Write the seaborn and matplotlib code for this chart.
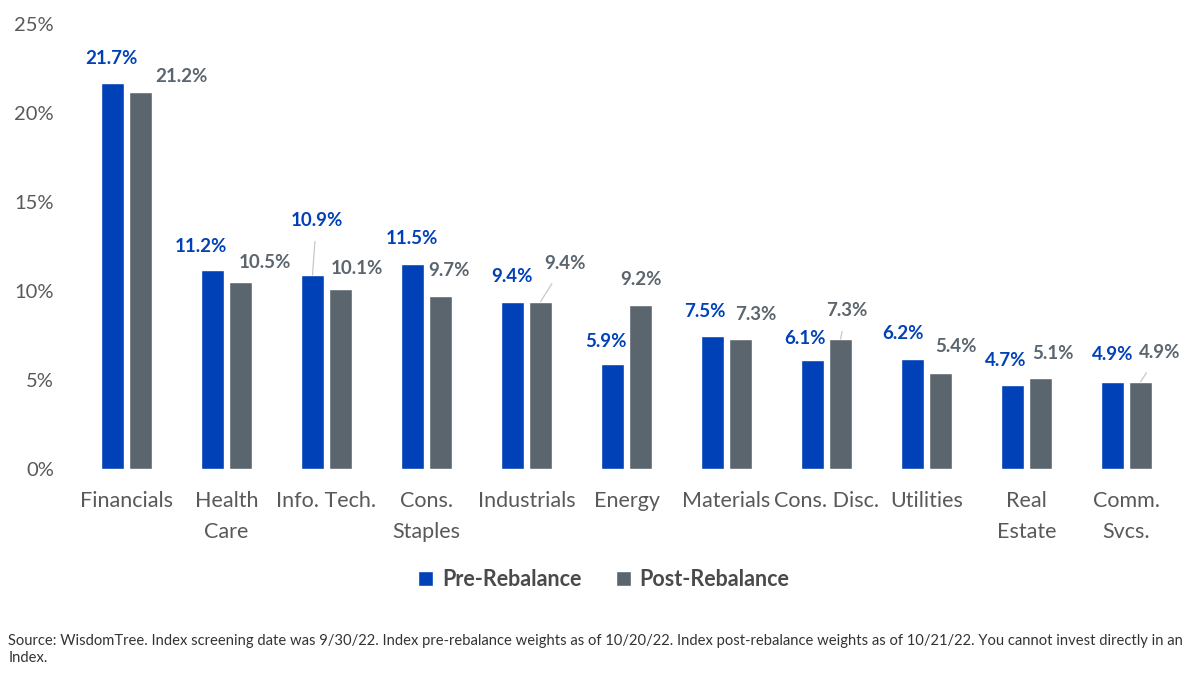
import pandas as pd
import seaborn as sns
import matplotlib.pyplot as plt
from matplotlib.patches import Patch

# data
sectors = ['Financials', 'Health\nCare', 'Info. Tech.', 'Cons.\nStaples', 'Industrials', 'Energy',
           'Materials', 'Cons. Disc.', 'Utilities', 'Real\nEstate', 'Comm.\nSvcs.']
pre_rebalance = [21.7, 11.2, 10.9, 11.5, 9.4, 5.9, 7.5, 6.1, 6.2, 4.7, 4.9]
post_rebalance = [21.2, 10.5, 10.1, 9.7, 9.4, 9.2, 7.3, 7.3, 5.4, 5.1, 4.9]
series_names = ['Pre-Rebalance', 'Post-Rebalance']
y_ticks = [0, 5, 10, 15, 20, 25]

# label offsets (pixels) from bar top, plus which ones get a leader line
pre_offsets = [(-1, 24), (-12, 23), (4, 55), (-1, 26), (-1, 25), (-7, 23),
               (-8, 24), (-8, 22), (-10, 25), (-7, 25), (0, 27)]
post_offsets = [(41, 15), (24, 20), (16, 21), (8, 26), (24, 38), (0, 26),
                (15, 25), (6, 29), (15, 26), (12, 25), (19, 29)]
pre_leader = [False, False, True, False, False, False, False, False, False, False, False]
post_leader = [False, False, False, False, True, False, False, True, False, False, True]

BLUE = '#0041B8'
GREY = '#5B656E'

df = pd.DataFrame({
    'sector': sectors * 2,
    'weight': pre_rebalance + post_rebalance,
    'series': [series_names[0]] * len(sectors) + [series_names[1]] * len(sectors),
})

sns.set_style('white')
plt.rcParams['font.family'] = ['Lato', 'DejaVu Sans']

fig = plt.figure(figsize=(12, 6.83), dpi=100)
ax = fig.add_axes([0.0554, 0.3133, 0.9334, 0.6515])

sns.barplot(data=df, x='sector', y='weight', hue='series', palette=[BLUE, GREY],
            width=0.56, gap=0.18, legend=False, ax=ax, saturation=1)

ax.set_xlim(-0.6, 10.6)
ax.set_ylim(0, 25)
ax.set_yticks(y_ticks)
ax.set_yticklabels([f'{t}%' for t in y_ticks])
ax.set_xlabel('')
ax.set_ylabel('')
sns.despine(ax=ax, left=True, bottom=True)
ax.tick_params(axis='y', length=0, pad=9, labelsize=14.5, labelcolor='#595959')
ax.tick_params(axis='x', length=0, pad=16, labelsize=15.5, labelcolor='#595959')
for lbl in ax.get_xticklabels():
    lbl.set_linespacing(1.7)
    lbl.set_verticalalignment('top')

# data labels
for container, offsets, leaders, color in [
        (ax.containers[0], pre_offsets, pre_leader, BLUE),
        (ax.containers[1], post_offsets, post_leader, GREY)]:
    for bar, (dx, dy), lead in zip(container, offsets, leaders):
        x = bar.get_x() + bar.get_width() / 2
        top = bar.get_height()
        props = dict(arrowstyle='-', color='#C8C8C8', lw=0.9, shrinkA=7, shrinkB=0) if lead else None
        ax.annotate(f'{top:.1f}%', xy=(x, top), xytext=(dx, dy), textcoords='offset pixels',
                    ha='center', va='center', fontsize=13.5, fontweight='bold', color=color,
                    arrowprops=props, annotation_clip=False)

# legend
handles = [Patch(facecolor=BLUE, label=series_names[0]), Patch(facecolor=GREY, label=series_names[1])]
fig.legend(handles=handles, loc='center', bbox_to_anchor=(0.503, 0.151), ncol=2, frameon=False,
           prop={'size': 15.5, 'weight': 'bold'}, labelcolor='#4A4A4A', handlelength=0.7,
           handleheight=0.7, handletextpad=0.4, columnspacing=1.6)

fig.text(0.007, 0.049,
         'Source: WisdomTree. Index screening date was 9/30/22. Index pre-rebalance weights as of 10/20/22. '
         'Index post-rebalance weights as of 10/21/22. You cannot invest directly in an\nIndex.',
         fontsize=10.6, color='#333333', ha='left', va='center', linespacing=1.35)

fig.savefig('out.png', dpi=100)
